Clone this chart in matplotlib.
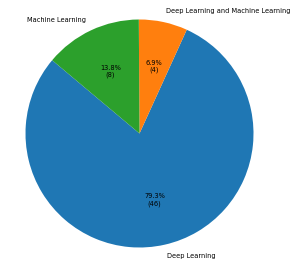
import matplotlib
matplotlib.use("Agg")
import matplotlib.pyplot as plt

labels = ["Deep Learning", "Deep Learning and Machine Learning", "Machine Learning"]
counts = [46, 4, 8]

total = sum(counts)

def fmt(p):
    return f"{p:.1f}%\n({int(round(p * total / 100))})"

fig = plt.figure(figsize=(3.05, 2.67), dpi=100)
ax = fig.add_axes([25.5 / 305, 19.5 / 267, 228 / 305, 228 / 267])
ax.pie(counts, labels=labels, autopct=fmt, startangle=140,
       textprops={"fontsize": 4.8})
ax.set_xlim(-1, 1)
ax.set_ylim(-1, 1)
fig.savefig("out.png", dpi=100)
